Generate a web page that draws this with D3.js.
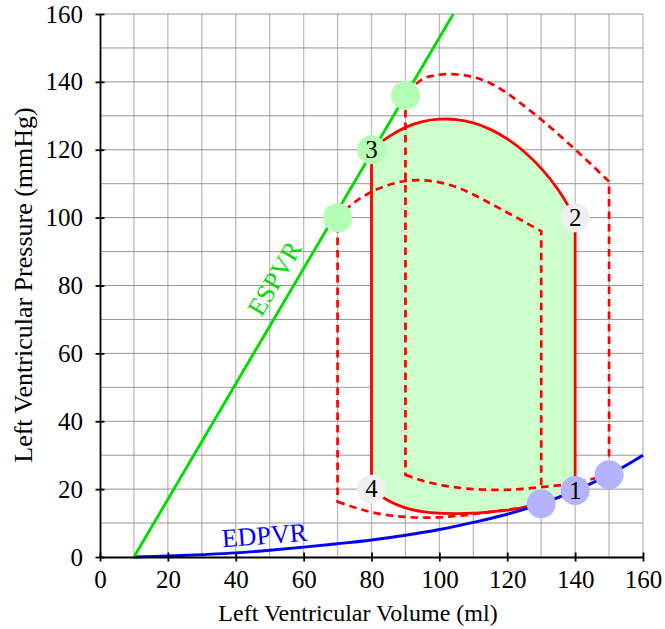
<!DOCTYPE html>
<html>
<head>
<meta charset="utf-8">
<script src="https://cdn.jsdelivr.net/npm/d3@7"></script>
<style>
  body { margin: 0; background: #fff; }
  text { font-family: "Liberation Serif", "Times New Roman", serif !important; }
</style>
</head>
<body>
<div id="my_dataviz"></div>
<script>

// tick labels and grid
var xTicks = [0, 20, 40, 60, 80, 100, 120, 140, 160];
var yTicks = [0, 20, 40, 60, 80, 100, 120, 140, 160];
var gridVals = [10, 20, 30, 40, 50, 60, 70, 80, 90, 100, 110, 120, 130, 140, 150, 160];

// end-systolic and end-diastolic pressure volume relations [volume, pressure]
var espvr = [[10, 0], [104.1, 160]];
var edpvr = [[10, 0], [20, 0.3], [30, 0.7], [40, 1.2], [50, 2.0], [60, 2.9], [70, 3.9],
             [80, 5.0], [90, 6.4], [100, 8.1], [110, 10.2], [120, 12.6], [130, 15.7],
             [140, 19.6], [150, 24.2], [160, 30]];

// baseline loop (solid): filling curve and ejection arc
var loopBottom = [[80, 20], [85, 16.6], [90, 14.5], [95, 13.4], [100, 12.9], [105, 12.8], [110, 12.9],
                  [115, 13.3], [120, 13.8], [125, 14.6], [130, 15.7], [135, 17.5], [140, 19.6]];
var loopTop = [[80, 120], [85, 123.8], [90, 126.6], [95, 128.3], [100, 129], [105, 128.9], [110, 127.9],
               [115, 126], [120, 123.2], [125, 119.4], [130, 114.5], [135, 108.2], [140, 100]];

// smaller dashed loop
var loopBBottom = [[70, 16.3], [75, 14.6], [80, 13.2], [85, 12.3], [90, 11.8], [95, 11.6], [100, 11.7],
                   [105, 12.1], [110, 12.6], [115, 13.3], [120, 13.9], [125, 14.7], [130, 15.7]];
var loopBTop = [[70, 100], [75, 104.5], [80, 107.6], [85, 109.6], [90, 110.8], [95, 111], [100, 110.4],
                [105, 109], [110, 106.8], [115, 104.2], [120, 101.5], [125, 98.8], [130, 96]];

// larger dashed loop
var loopCBottom = [[90, 24.2], [95, 22.5], [100, 21.3], [105, 20.5], [110, 20], [115, 19.8], [120, 19.8],
                   [125, 20.1], [130, 20.6], [135, 21.1], [140, 21.8], [145, 23], [150, 24.2]];
var loopCTop = [[90, 136], [95, 140.8], [100, 142.1], [105, 142.2], [110, 141.4], [115, 139.6], [120, 136.6],
                [125, 132.9], [130, 128.9], [135, 124.6], [140, 120.1], [145, 115.4], [150, 110.6]];

// markers [volume, pressure, label]
var esMarks = [[70, 100, ""], [80, 120, "3"], [90, 136, ""]];
var edMarks = [[130, 15.7, ""], [140, 19.6, "1"], [150, 24.2, ""]];
var cornerMarks = [[140, 100, "2"], [80, 20, "4"]];

var W = 665, H = 629;
var serif = '"Liberation Serif", "Times New Roman", serif';

var svg = d3.select("#my_dataviz")
    .append("svg")
    .attr("width", W)
    .attr("height", H);

var x = d3.scaleLinear().domain([0, 160]).range([100, 643]);
var y = d3.scaleLinear().domain([0, 160]).range([557, 14]);

// grid
svg.append("g").selectAll("line")
    .data(gridVals)
    .enter().append("line")
    .attr("x1", function (d) { return x(d); })
    .attr("x2", function (d) { return x(d); })
    .attr("y1", y(0))
    .attr("y2", y(160))
    .attr("stroke", "#bdbdbd")
    .attr("stroke-width", 1.3);

svg.append("g").selectAll("line")
    .data(gridVals)
    .enter().append("line")
    .attr("x1", x(0))
    .attr("x2", x(160))
    .attr("y1", function (d) { return y(d); })
    .attr("y2", function (d) { return y(d); })
    .attr("stroke", "#8a8a8a")
    .attr("stroke-width", 0.9);

var line = d3.line()
    .x(function (d) { return x(d[0]); })
    .y(function (d) { return y(d[1]); })
    .curve(d3.curveCatmullRom.alpha(0.5));

function loopPath(bottom, top) {
    return line(bottom) + line(top.slice().reverse()).replace(/^M/, "L") + "Z";
}

// filled baseline loop
svg.append("path")
    .attr("d", loopPath(loopBottom, loopTop))
    .attr("fill", "#ccffcc")
    .attr("stroke", "none");

// dashed loops
[[loopBBottom, loopBTop], [loopCBottom, loopCTop]].forEach(function (l) {
    svg.append("path")
        .attr("d", loopPath(l[0], l[1]))
        .attr("fill", "none")
        .attr("stroke", "#ff0000")
        .attr("stroke-width", 2.7)
        .attr("stroke-dasharray", "7.5,5");
});

svg.append("path")
    .attr("d", loopPath(loopBottom, loopTop))
    .attr("fill", "none")
    .attr("stroke", "#ff0000")
    .attr("stroke-width", 2.8);

// pressure volume relations
svg.append("path")
    .attr("d", line(edpvr))
    .attr("fill", "none")
    .attr("stroke", "#0000ff")
    .attr("stroke-width", 2.9);

svg.append("path")
    .attr("d", d3.line().x(function (d) { return x(d[0]); }).y(function (d) { return y(d[1]); })(espvr))
    .attr("fill", "none")
    .attr("stroke", "#00dd00")
    .attr("stroke-width", 2.9);

// axes
var xAxis = svg.append("g")
    .attr("transform", "translate(0," + y(0) + ")")
    .call(d3.axisBottom(x).tickValues(xTicks).tickSize(4.5).tickSizeOuter(0).tickPadding(8.5));
var yAxis = svg.append("g")
    .attr("transform", "translate(" + x(0) + ",0)")
    .call(d3.axisLeft(y).tickValues(yTicks).tickSize(4.5).tickSizeOuter(0).tickPadding(12.5));

xAxis.selectAll(".tick line").attr("y1", -4.5).attr("y2", 4.5);
yAxis.selectAll(".tick line").attr("x1", -4.5).attr("x2", 4.5);
[xAxis, yAxis].forEach(function (a) {
    a.attr("font-family", serif).attr("font-size", 25);
    a.selectAll("line, path").attr("stroke", "#000").attr("stroke-width", 1.8);
    a.selectAll("text")
        .attr("fill", "#000")
        .style("font-size", "25px");
});

// markers
function marks(data, fill) {
    var g = svg.append("g").selectAll("g")
        .data(data)
        .enter().append("g")
        .attr("transform", function (d) { return "translate(" + x(d[0]) + "," + y(d[1]) + ")"; });
    g.append("circle")
        .attr("r", 14.5)
        .attr("fill", fill);
    g.append("text")
        .attr("text-anchor", "middle")
        .attr("dy", "0.33em")
        .style("font-size", "25px")
        .text(function (d) { return d[2]; });
}
marks(esMarks, "#b3ffb3");
marks(edMarks, "#b3b3ff");
marks(cornerMarks, "#efefef");

// curve labels
svg.append("text")
    .attr("transform", "translate(282,283) rotate(-59.5)")
    .attr("text-anchor", "middle")
    .attr("fill", "#00dd00")
    .style("font-size", "26px")
    .text("ESPVR");

svg.append("text")
    .attr("transform", "translate(265,544) rotate(-4.5)")
    .attr("text-anchor", "middle")
    .attr("fill", "#0000ff")
    .style("font-size", "26px")
    .text("EDPVR");

// axis titles
svg.append("text")
    .attr("x", 358)
    .attr("y", 621)
    .attr("text-anchor", "middle")
    .style("font-size", "24px")
    .text("Left Ventricular Volume (ml)");

svg.append("text")
    .attr("transform", "translate(32,285) rotate(-90)")
    .attr("text-anchor", "middle")
    .style("font-size", "26px")
    .text("Left Ventricular Pressure (mmHg)");

</script>
</body>
</html>
